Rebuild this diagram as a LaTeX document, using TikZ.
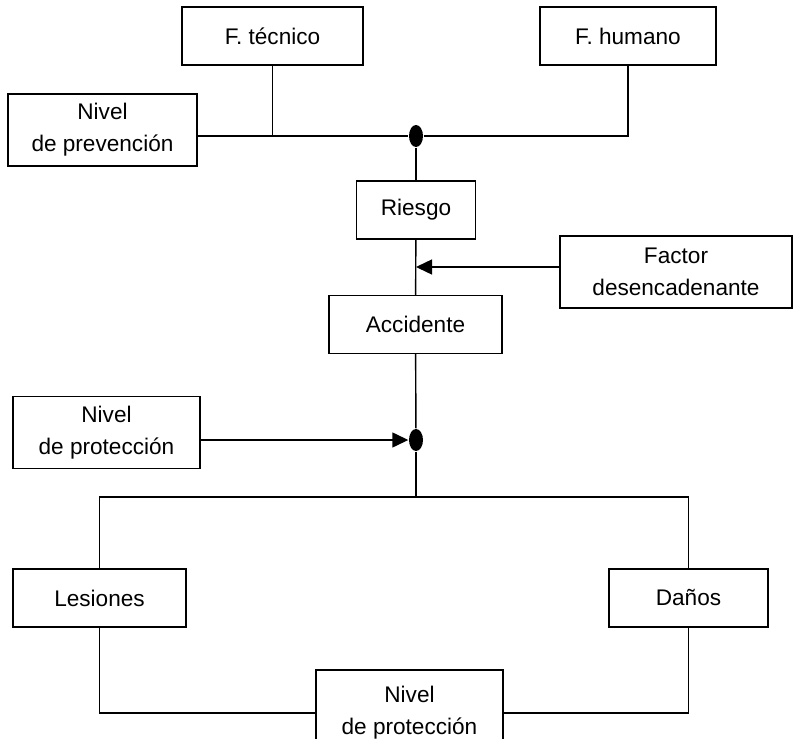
\documentclass[tikz,border=0pt]{standalone}
\usepackage{fontspec}
\setmainfont{Liberation Sans}
\usetikzlibrary{arrows.meta,positioning,shapes.geometric}

\begin{document}
\begin{tikzpicture}[x=0.5pt, y=-0.5pt,
                    >={Triangle[length=8pt,width=7.5pt]},
                    line width=0.7pt,
                    every node/.append style={font=\fontsize{11.3}{16}\selectfont},
                    box/.style={draw, align=center, inner sep=2pt, minimum height=29pt},
                    tall/.style={minimum height=36pt},
                    dot/.style={ellipse, fill=black, inner sep=0pt, minimum width=7pt, minimum height=11pt}
                    ]
\useasboundingbox (0,0) rectangle (794,739);
\clip (0,0) rectangle (794,739);

% causes
\node[box, minimum width=90.5pt]      (tec)  at (272.5,36)  {F. técnico};
\node[box, minimum width=88pt]        (hum)  at (628,36)    {F. humano};
\node[box, tall, minimum width=94.5pt] (prev) at (102.5,130) {Nivel\\de prevención};
\node[dot] (dot1) at (416,136) {};

\node[box, minimum width=59.5pt]      (ries) at (416,210)   {Riesgo};
\node[box, tall, minimum width=116pt] (fac)  at (676,272)   {Factor\\desencadenante};
\node[box, minimum width=86.5pt]      (acc)  at (415.5,324.5) {Accidente};

% consequences
\node[box, tall, minimum width=93.5pt] (prot1) at (106.5,432.5) {Nivel\\de protección};
\node[dot] (dot2) at (416,440) {};

\node[box, minimum width=86.5pt]      (les)  at (99.5,598)  {Lesiones};
\node[box, minimum width=79.5pt]      (dan)  at (688.5,598) {Daños};
\node[box, minimum width=93.5pt, minimum height=43pt] (prot2) at (409.5,713) {Nivel\\de protección};

\coordinate (hit)   at (416,267);
\coordinate (split) at (416,497);

\draw (prev.east |- dot1) -- (dot1);
\draw (tec.south) -- (tec.south |- dot1);
\draw (dot1) -| (hum.south);
\draw (dot1) -- (ries);
\draw (ries) -- (acc);
\draw[->] (fac.west |- hit) -- (hit);
\draw (acc) -- (dot2);
\draw[->] (prot1.east |- dot2) -- (dot2);
\draw (dot2) -- (split);
\draw (les) |- (split) -| (dan);
\draw (les) |- (prot2);
\draw (prot2) -| (dan);
\end{tikzpicture}
\end{document}
